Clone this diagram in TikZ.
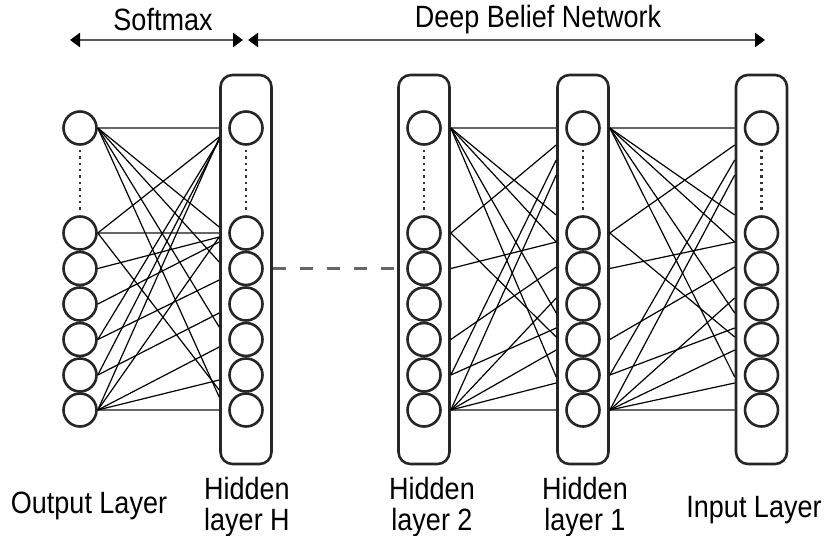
\documentclass[tikz,border=0pt]{standalone}
\usepackage{fontspec}
\setmainfont{Liberation Sans}
\usetikzlibrary{arrows.meta, calc}

\begin{document}
\begin{tikzpicture}[x=0.5pt, y=-0.5pt, >={Triangle[length=5pt,width=7pt,color=black]},
  unit/.style={draw=black!85, line width=1.3pt, circle, minimum size=16.5pt, inner sep=0pt},
  layer/.style={draw=black!85, line width=1.3pt, rounded corners=6pt,
    minimum width=25.5pt, minimum height=194.5pt, inner sep=0pt},
  wire/.style={black, line width=0.6pt},
  flat/.style={black!60, line width=1.1pt},
  lbl/.style={font=\fontsize{13.5}{13.5}\selectfont, align=center, yscale=1.14, transform shape}]

  \useasboundingbox (0,0) rectangle (828,535);

  % layer boxes
  \foreach \n/\x in {H/246, L2/424, L1/583, In/761.5}
    \node[layer] (\n) at (\x,269.5) {};

  % units in every layer
  \foreach \n/\x in {Out/80, H/246, L2/424, L1/583, In/761.5} {
    \foreach \i/\y in {1/128, 2/233, 3/268.5, 4/304, 5/339.5, 6/375, 7/410}
      \node[unit] (\n-\i) at (\x,\y) {};
    \draw[black!80, dotted, line width=1.2pt, shorten <=2pt, shorten >=2pt] (\n-1) -- (\n-2);
  }

  % softmax weights
  \foreach \s in {1, 2, 7}
    \draw[flat] (Out-\s.east) -- (H.west |- Out-\s);
  \foreach \s/\t in {1/227, 1/262, 1/327, 1/397, 2/137, 2/390, 3/237, 4/242, 5/280,
                     5/140, 6/313, 6/140, 7/380, 7/347, 7/237, 7/138}
    \draw[wire] (Out-\s.east) -- (H.west |- 0,\t);

  % DBN weights
  \foreach \a/\b in {L2/L1, L1/In} {
    \foreach \s in {1, 7}
      \draw[flat] (\a.east |- \a-\s) -- (\b.west |- \a-\s);
    \foreach \s/\t in {1/215, 1/242, 1/313, 1/377, 2/145, 2/337, 3/242, 5/267,
                       6/160, 6/328, 7/383, 7/350, 7/298, 7/175}
      \draw[wire] (\a.east |- \a-\s) -- (\b.west |- 0,\t);
  }

  % skipped hidden layers
  \draw[flat, dash pattern=on 6.5pt off 7pt] (H.east |- H-3) -- (L2.west |- H-3);

  % top spans
  \coordinate (sm-l) at (70,40);
  \coordinate (sm-r) at (243,40);
  \coordinate (dbn-l) at (248,40);
  \coordinate (dbn-r) at (765,40);
  \draw[<->, black!65, line width=1.2pt] (sm-l) -- (sm-r);
  \draw[<->, black!65, line width=1.2pt] (dbn-l) -- (dbn-r);
  \node[lbl] (sm) at (163,20) {Softmax};
  \node[lbl] (dbn) at (538,20) {Deep Belief Network};

  % layer names
  \node[lbl] (out-lbl) at (89,506) {Output Layer};
  \node[lbl] (h-lbl) at (247,507) {Hidden\\layer H};
  \node[lbl] (l2-lbl) at (432,507) {Hidden\\layer 2};
  \node[lbl] (l1-lbl) at (585,507) {Hidden\\layer 1};
  \node[lbl] (in-lbl) at (754,510) {Input Layer};
\end{tikzpicture}
\end{document}
